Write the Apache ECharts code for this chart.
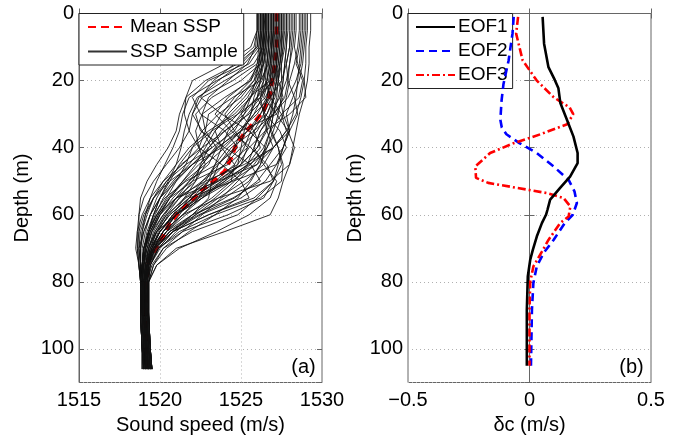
<!DOCTYPE html>
<html>
<head>
<meta charset="utf-8">
<script src="https://cdn.jsdelivr.net/npm/echarts@6/dist/echarts.min.js"></script>
<style>
html,body{margin:0;padding:0;background:#fff;}
#chart{width:678px;height:435px;}
</style>
</head>
<body>
<div id="chart"></div>
<script>
// ---------- data ----------
const sampleDepths = [0,5,10,15,20,25,30,35,40,45,50,55,60,65,70,75,80,90,100,106];
const sspSamples = [
  [1529.3,1529.3,1529.2,1529.2,1529.1,1528.9,1528.6,1528.4,1528.2,1528.0,1527.6,1527.3,1526.8,1524.0,1521.0,1519.8,1519.3,1519.3,1519.4,1519.5],
  [1529.0,1529.0,1528.9,1528.8,1528.6,1528.2,1527.8,1528.0,1527.6,1527.2,1526.5,1525.0,1522.5,1520.8,1519.9,1519.4,1519.2,1519.2,1519.3,1519.4],
  [1528.7,1528.7,1528.6,1528.4,1528.8,1528.6,1527.5,1526.8,1527.3,1527.5,1527.0,1526.0,1524.8,1522.0,1520.2,1519.6,1519.3,1519.3,1519.4,1519.5],
  [1528.4,1528.4,1528.3,1528.5,1528.9,1529.0,1528.0,1526.5,1525.5,1524.8,1523.0,1521.5,1520.5,1519.9,1519.5,1519.2,1519.1,1519.1,1519.2,1519.3],
  [1528.1,1528.1,1528.0,1527.8,1527.9,1528.3,1528.5,1528.0,1527.0,1525.2,1522.8,1521.0,1520.2,1519.6,1519.3,1519.1,1519.0,1519.0,1519.1,1519.2],
  [1527.8,1527.8,1527.7,1527.5,1527.3,1527.6,1527.2,1525.0,1523.5,1522.6,1521.8,1521.0,1520.3,1519.7,1519.3,1519.1,1519.0,1519.1,1519.2,1519.3],
  [1527.5,1527.5,1527.4,1527.3,1527.0,1526.0,1526.5,1527.4,1527.8,1527.2,1524.5,1521.8,1520.6,1519.8,1519.4,1519.2,1519.1,1519.2,1519.3,1519.4],
  [1527.3,1527.3,1527.3,1527.2,1527.0,1526.5,1525.5,1524.0,1523.0,1522.5,1522.2,1521.5,1520.8,1520.0,1519.5,1519.2,1519.1,1519.1,1519.2,1519.3],
  [1527.2,1527.2,1527.1,1527.1,1526.9,1526.2,1524.8,1523.2,1522.0,1521.2,1520.6,1520.0,1519.6,1519.3,1519.1,1519.0,1518.9,1518.9,1519.0,1519.1],
  [1527.0,1527.0,1527.0,1527.0,1526.8,1525.5,1525.0,1525.8,1526.2,1525.4,1524.0,1522.3,1521.0,1520.2,1519.6,1519.2,1519.1,1519.1,1519.2,1519.3],
  [1526.9,1526.9,1526.8,1526.7,1526.2,1524.5,1523.0,1522.8,1523.5,1523.0,1521.8,1520.8,1520.0,1519.5,1519.2,1519.0,1518.9,1518.9,1519.0,1519.1],
  [1526.7,1526.7,1526.7,1526.6,1526.5,1526.8,1527.5,1527.8,1527.0,1525.5,1523.8,1522.2,1521.0,1520.2,1519.6,1519.3,1519.2,1519.3,1519.4,1519.5],
  [1526.6,1526.6,1526.5,1526.2,1525.0,1523.2,1522.2,1522.5,1524.0,1525.6,1526.2,1524.5,1522.0,1520.4,1519.6,1519.2,1519.0,1519.0,1519.1,1519.2],
  [1526.5,1526.5,1526.4,1525.8,1524.0,1522.3,1521.8,1521.5,1521.3,1521.0,1520.5,1520.0,1519.6,1519.3,1519.0,1518.9,1518.8,1518.8,1518.9,1519.0],
  [1526.4,1526.4,1526.3,1526.0,1524.5,1522.6,1522.0,1521.8,1522.4,1523.8,1525.0,1525.5,1523.0,1520.8,1519.7,1519.3,1519.1,1519.2,1519.3,1519.4],
  [1526.3,1526.3,1526.2,1525.5,1523.5,1521.8,1521.4,1521.2,1520.8,1520.3,1519.8,1519.4,1519.1,1518.9,1518.8,1518.8,1518.8,1518.8,1518.9,1518.9],
  [1526.2,1526.2,1526.1,1525.2,1523.0,1522.0,1522.5,1524.0,1524.8,1523.5,1521.6,1520.3,1519.6,1519.2,1519.0,1518.9,1518.9,1519.0,1519.1,1519.2],
  [1526.1,1526.1,1526.0,1524.8,1522.8,1521.6,1521.2,1521.0,1520.5,1519.8,1519.2,1518.8,1518.7,1518.7,1518.7,1518.8,1518.8,1518.8,1518.9,1518.9],
  [1526.0,1526.0,1525.8,1524.6,1523.3,1522.5,1523.8,1525.5,1526.5,1526.0,1523.6,1521.0,1519.8,1519.3,1519.0,1518.9,1518.9,1519.0,1519.1,1519.2],
  [1526.6,1526.6,1526.6,1526.5,1526.4,1526.0,1525.2,1524.0,1522.6,1521.3,1520.4,1519.8,1519.4,1519.1,1518.9,1518.9,1518.9,1518.9,1519.0,1519.1],
  [1527.4,1527.4,1527.3,1527.2,1527.2,1527.0,1526.8,1526.5,1526.0,1525.0,1523.5,1522.0,1520.8,1520.0,1519.5,1519.2,1519.1,1519.2,1519.3,1519.4],
  [1527.6,1527.6,1527.6,1527.5,1527.5,1527.3,1527.0,1526.8,1526.5,1526.2,1525.5,1524.0,1522.2,1520.6,1519.8,1519.3,1519.2,1519.3,1519.4,1519.5],
  [1526.8,1526.8,1526.8,1526.7,1526.6,1526.3,1525.8,1525.0,1524.0,1522.8,1521.5,1520.6,1520.0,1519.5,1519.2,1519.0,1518.9,1519.0,1519.1,1519.2],
  [1528.9,1528.9,1528.8,1528.7,1528.4,1527.9,1527.0,1526.2,1525.8,1526.4,1527.2,1526.8,1525.5,1523.5,1521.2,1519.8,1519.3,1519.3,1519.4,1519.5],
  [1527.1,1527.1,1527.0,1526.9,1526.8,1526.6,1526.0,1524.8,1523.6,1522.4,1521.4,1520.6,1519.9,1519.4,1519.1,1519.0,1519.0,1519.0,1519.1,1519.2],
  [1526.3,1526.3,1526.3,1526.2,1526.0,1525.4,1524.4,1523.4,1522.8,1522.2,1521.4,1520.5,1519.8,1519.3,1519.0,1518.9,1518.8,1518.9,1519.0,1519.0],
  [1528.0,1528.0,1528.0,1527.8,1527.5,1526.8,1525.8,1525.0,1524.6,1524.0,1522.6,1521.2,1520.4,1519.8,1519.4,1519.2,1519.1,1519.1,1519.2,1519.3],
  [1527.9,1527.9,1527.8,1527.7,1527.6,1527.4,1527.6,1528.0,1527.6,1526.8,1526.0,1524.6,1522.4,1520.6,1519.7,1519.3,1519.2,1519.2,1519.3,1519.4],
  [1526.5,1526.5,1526.5,1526.4,1526.2,1525.8,1525.6,1525.0,1523.8,1522.0,1520.9,1520.2,1519.7,1519.3,1519.1,1519.0,1518.9,1518.9,1519.0,1519.1],
  [1527.2,1527.2,1527.2,1527.1,1527.0,1526.8,1526.2,1525.6,1525.2,1524.6,1523.4,1521.6,1520.4,1519.7,1519.3,1519.1,1519.0,1519.1,1519.2,1519.3],
  [1526.2,1526.2,1526.2,1526.1,1525.8,1525.0,1523.6,1522.6,1522.0,1521.6,1521.0,1520.4,1519.8,1519.3,1519.0,1518.9,1518.8,1518.8,1518.9,1519.0],
  [1526.7,1526.7,1526.7,1526.6,1526.4,1526.2,1526.4,1526.9,1527.3,1527.6,1527.5,1526.2,1523.4,1521.2,1519.9,1519.3,1519.2,1519.2,1519.3,1519.4],
  [1527.0,1527.0,1526.9,1526.8,1526.6,1526.2,1525.4,1524.4,1523.4,1522.6,1522.0,1521.2,1520.2,1519.5,1519.1,1518.9,1518.9,1519.0,1519.1,1519.1],
  [1526.4,1526.4,1526.4,1526.3,1526.1,1525.6,1524.8,1523.8,1523.0,1522.0,1521.0,1520.0,1519.4,1519.0,1518.8,1518.8,1518.8,1518.8,1518.9,1519.0],
  [1527.7,1527.7,1527.6,1527.4,1527.2,1527.0,1526.6,1526.0,1525.0,1524.0,1523.0,1522.0,1521.2,1520.4,1519.6,1519.2,1519.1,1519.2,1519.3,1519.4],
  [1528.3,1528.3,1528.2,1528.0,1527.8,1527.4,1526.8,1526.2,1525.8,1525.4,1524.6,1523.4,1522.0,1520.8,1519.9,1519.4,1519.3,1519.3,1519.4,1519.5],
  [1526.0,1526.0,1525.6,1524.0,1522.0,1521.6,1521.5,1521.8,1521.2,1520.4,1519.6,1519.0,1518.7,1518.6,1518.5,1518.7,1518.8,1518.8,1518.9,1519.0],
  [1526.1,1526.1,1526.0,1525.0,1523.6,1522.4,1522.0,1522.6,1523.2,1522.0,1520.6,1519.6,1519.0,1518.7,1518.6,1518.7,1518.8,1518.9,1519.0,1519.1],
  [1526.5,1526.4,1526.3,1526.1,1525.5,1524.2,1523.4,1524.4,1525.6,1526.6,1527.0,1525.8,1523.0,1520.8,1519.6,1519.2,1519.0,1519.1,1519.2,1519.3],
  [1527.0,1527.0,1526.9,1526.9,1526.7,1526.4,1527.2,1527.9,1528.3,1528.0,1526.8,1523.6,1521.4,1520.2,1519.6,1519.3,1519.1,1519.2,1519.3,1519.4],
  [1526.8,1526.8,1526.7,1526.6,1526.3,1525.6,1524.6,1523.0,1521.8,1521.0,1520.2,1519.6,1519.2,1518.9,1518.8,1518.8,1518.8,1518.9,1519.0,1519.0],
  [1527.3,1527.3,1527.2,1527.2,1527.1,1526.9,1526.4,1525.8,1525.4,1524.2,1522.0,1520.6,1519.9,1519.4,1519.1,1519.0,1518.9,1519.0,1519.1,1519.2],
  [1528.6,1528.6,1528.5,1528.3,1528.0,1527.8,1527.6,1527.2,1526.6,1525.8,1524.8,1523.8,1522.6,1521.4,1520.2,1519.5,1519.2,1519.3,1519.4,1519.5],
  [1529.1,1529.1,1529.0,1529.0,1528.9,1528.7,1528.4,1527.8,1527.0,1526.0,1524.4,1522.6,1521.0,1520.0,1519.5,1519.3,1519.2,1519.2,1519.3,1519.4],
  [1526.6,1526.6,1526.5,1526.4,1526.0,1525.2,1524.2,1523.4,1523.8,1524.6,1524.4,1523.2,1521.6,1520.4,1519.6,1519.2,1519.0,1519.0,1519.1,1519.2],
  [1526.3,1526.3,1526.2,1526.1,1525.9,1525.6,1525.2,1524.6,1523.2,1521.6,1520.4,1519.6,1519.1,1518.8,1518.7,1518.8,1518.8,1518.8,1518.9,1518.9],
  [1527.5,1527.5,1527.5,1527.4,1527.3,1527.1,1526.6,1525.4,1524.2,1523.4,1523.0,1522.4,1521.4,1520.4,1519.7,1519.3,1519.1,1519.1,1519.2,1519.3],
  [1526.9,1526.9,1526.9,1526.8,1526.8,1526.6,1526.4,1526.6,1527.0,1526.4,1525.2,1523.6,1522.2,1521.0,1520.0,1519.4,1519.1,1519.1,1519.2,1519.3],
  [1526.2,1526.2,1526.1,1526.0,1525.6,1524.0,1522.6,1522.2,1522.4,1522.8,1522.2,1521.0,1520.0,1519.4,1519.0,1518.9,1518.9,1518.9,1519.0,1519.1],
  [1527.1,1527.1,1527.1,1527.0,1526.9,1526.7,1526.2,1525.4,1524.6,1523.6,1522.6,1521.8,1521.0,1520.2,1519.5,1519.1,1519.0,1519.1,1519.2,1519.2],
  [1528.2,1528.2,1528.1,1528.0,1527.9,1527.7,1527.0,1525.8,1524.4,1523.6,1523.2,1523.0,1522.0,1520.6,1519.7,1519.3,1519.2,1519.2,1519.3,1519.4],
  [1526.4,1526.4,1526.4,1526.3,1526.2,1526.0,1525.6,1525.2,1525.0,1524.8,1524.0,1522.6,1521.0,1519.8,1519.2,1518.9,1518.9,1518.9,1519.0,1519.0],
  [1527.6,1527.6,1527.5,1527.4,1527.3,1527.2,1527.0,1526.8,1526.4,1525.6,1524.2,1522.4,1520.9,1520.0,1519.4,1519.1,1519.0,1519.1,1519.2,1519.3],
  [1526.7,1526.7,1526.6,1526.4,1525.8,1524.8,1524.0,1524.6,1525.4,1525.0,1523.6,1522.0,1520.8,1520.0,1519.4,1519.1,1519.0,1519.0,1519.1,1519.2],
  [1528.8,1528.8,1528.7,1528.6,1528.5,1528.4,1528.2,1527.9,1527.6,1527.3,1527.0,1526.4,1524.2,1521.4,1519.9,1519.4,1519.3,1519.3,1519.4,1519.5],
  [1526.0,1526.0,1525.9,1525.4,1524.2,1523.0,1522.6,1522.8,1522.4,1521.4,1520.2,1519.4,1518.9,1518.6,1518.6,1518.7,1518.8,1518.8,1518.9,1519.0],
  [1527.4,1527.4,1527.4,1527.3,1527.2,1527.0,1526.9,1526.6,1526.0,1525.0,1523.8,1522.6,1521.4,1520.2,1519.5,1519.2,1519.1,1519.1,1519.2,1519.3],
  [1526.9,1526.9,1526.9,1526.8,1526.6,1526.0,1525.0,1524.2,1523.8,1523.4,1522.8,1521.8,1520.6,1519.8,1519.3,1519.0,1518.9,1519.0,1519.1,1519.1],
  [1527.8,1527.8,1527.8,1527.7,1527.6,1527.5,1527.3,1527.0,1526.6,1526.2,1525.6,1524.8,1523.4,1521.8,1520.4,1519.6,1519.3,1519.3,1519.4,1519.5],
  [1526.5,1526.5,1526.4,1526.2,1525.6,1524.6,1523.8,1523.2,1522.6,1521.8,1520.8,1520.0,1519.4,1519.0,1518.7,1518.7,1518.8,1518.9,1519.0,1519.0]
];
const meanDepths = [0,10,18,24,29,32,35.5,39,43,47,50,53,56,59,62.5,66.5,70.4,73.6,80,90,106];
const meanSSP = [1527.2,1527.2,1527.0,1526.8,1526.4,1525.9,1525.25,1524.7,1524.4,1524.0,1523.3,1522.5,1521.9,1521.2,1520.6,1520.2,1519.7,1519.3,1519.15,1519.1,1519.2];

const eof1Depths = [1,9,16,19.8,22.3,26.7,31.7,36.7,41.6,44.6,48.6,52,55.5,58.5,60,62.5,66.5,70.4,73.4,78.4,88.3,105];
const eof1 = [0.054,0.06,0.078,0.104,0.119,0.127,0.154,0.181,0.198,0.198,0.167,0.126,0.085,0.074,0.068,0.051,0.030,0.014,0.003,-0.007,-0.011,-0.011];
const eof2Depths = [1,6,14,21,26,31.7,34,36,38.7,41.6,45.6,49.6,53,56.5,60,62.5,67.5,71.4,75.4,80.3,88.3,105];
const eof2 = [-0.065,-0.07,-0.086,-0.107,-0.115,-0.12,-0.114,-0.095,-0.04,0.03,0.099,0.161,0.185,0.195,0.178,0.145,0.099,0.058,0.03,0.016,0.01,0.006];
const eof3Depths = [1,6,14,20,25,28,30,33,36,38.7,41.6,45.6,49,50.5,52,53.5,55,57.5,60.5,62.5,67.5,71,75.4,80,88,105];
const eof3 = [-0.047,-0.055,-0.028,0.03,0.1,0.165,0.18,0.155,0.045,-0.066,-0.162,-0.223,-0.22,-0.17,-0.05,0.07,0.14,0.168,0.161,0.126,0.078,0.051,0.016,0.003,0,0];

const speedTicks = [1515,1520,1525,1530];
const dcTicks = [-0.5,0,0.5];

// ---------- chart ----------
const FONT = 'Liberation Sans, Arial, Helvetica, sans-serif';
const chart = echarts.init(document.getElementById('chart'), null, {renderer:'canvas'});
const pair = (xs, ds) => ds.map((d, i) => [xs[i], d]);
const minus = v => String(v).replace('-', '\u2212');

const gridLine = {show:true, lineStyle:{color:'#b0b0b0', type:[1,3], width:1}};
const tick = {show:true, inside:true, length:5, lineStyle:{color:'#666'}};

function xMain(gi, min, max, interval, name) {
  return {gridIndex:gi, type:'value', position:'bottom', min, max, interval,
    axisLine:{show:true, lineStyle:{color:'#666'}}, axisTick:tick,
    axisLabel:{fontSize:20, fontFamily:FONT, color:'#000', margin:8, formatter:minus},
    splitLine:gridLine, name, nameLocation:'middle', nameGap:22,
    nameTextStyle:{fontSize:20, fontFamily:FONT, color:'#000'}};
}
function xTop(gi, min, max, interval) {
  return {gridIndex:gi, type:'value', position:'top', min, max, interval,
    axisLine:{show:false}, axisTick:tick, axisLabel:{show:false}, splitLine:{show:false}};
}
function yMain(gi, gap) {
  return {gridIndex:gi, type:'value', inverse:true, min:0, max:110, interval:20, position:'left',
    axisLine:{show:true, lineStyle:{color:'#666'}}, axisTick:tick,
    axisLabel:{fontSize:20, fontFamily:FONT, color:'#000', margin:5, showMaxLabel:false},
    splitLine:gridLine, name:'Depth (m)', nameLocation:'middle', nameGap:gap, nameRotate:90,
    nameTextStyle:{fontSize:20, fontFamily:FONT, color:'#000'}};
}
function yRight(gi) {
  return {gridIndex:gi, type:'value', inverse:true, min:0, max:110, interval:20, position:'right',
    axisLine:{show:false}, axisTick:tick, axisLabel:{show:false}, splitLine:{show:false}};
}

const series = [];
series.push({type:'line', name:'Mean SSP', xAxisIndex:0, yAxisIndex:0, symbol:'none', z:2,
  color:'#ff0000', lineStyle:{color:'#ff0000', width:4, type:[8,5]},
  data: pair(meanSSP, meanDepths)});
sspSamples.forEach(p => {
  series.push({type:'line', name:'SSP Sample', xAxisIndex:0, yAxisIndex:0, symbol:'none',
    silent:true, z:2, color:'#1a1a1a',
    lineStyle:{color:'rgba(15,15,15,0.85)', width:1},
    data: pair(p, sampleDepths)});
});
series.push({type:'line', name:'EOF1', xAxisIndex:1, yAxisIndex:1, symbol:'none', z:5,
  color:'#000', lineStyle:{color:'#000', width:2.6}, data: pair(eof1, eof1Depths)});
series.push({type:'line', name:'EOF2', xAxisIndex:1, yAxisIndex:1, symbol:'none', z:4,
  color:'#0000ff', lineStyle:{color:'#0000ff', width:2.6, type:[8,5]}, data: pair(eof2, eof2Depths)});
series.push({type:'line', name:'EOF3', xAxisIndex:1, yAxisIndex:1, symbol:'none', z:4,
  color:'#ff0000', lineStyle:{color:'#ff0000', width:2.6, type:[8,3,2,3]}, data: pair(eof3, eof3Depths)});

const legendBase = {orient:'vertical', borderColor:'#222', borderWidth:1, backgroundColor:'#fff',
  itemWidth:39, itemHeight:14, itemGap:5.5, selectedMode:false,
  itemStyle:{opacity:0, color:'rgba(0,0,0,0)', borderWidth:0},
  textStyle:{fontSize:19, fontFamily:FONT, color:'#000', padding:[0,0,0,-2]}};

chart.setOption({
  animation:false,
  backgroundColor:'#fff',
  grid:[
    {left:79, top:13.5, width:243, height:369, show:true, borderColor:'#666', borderWidth:1, outerBoundsMode:'none', containLabel:false},
    {left:408, top:13.5, width:243, height:369, show:true, borderColor:'#666', borderWidth:1, outerBoundsMode:'none', containLabel:false}
  ],
  xAxis:[
    xMain(0, speedTicks[0], speedTicks[speedTicks.length-1], 5, 'Sound speed (m/s)'),
    xMain(1, dcTicks[0], dcTicks[dcTicks.length-1], 0.5, '\u03b4c (m/s)'),
    xTop(0, speedTicks[0], speedTicks[speedTicks.length-1], 5),
    xTop(1, dcTicks[0], dcTicks[dcTicks.length-1], 0.5)
  ],
  yAxis:[ yMain(0, 47), yMain(1, 38), yRight(0), yRight(1) ],
  legend:[
    Object.assign({}, legendBase, {left:79, top:13.5, padding:[4,6,4,8], data:['Mean SSP','SSP Sample']}),
    Object.assign({}, legendBase, {left:408, top:13.5, padding:[4,5,4,7], itemGap:5, data:['EOF1','EOF2','EOF3']})
  ],
  graphic:[
    {type:'text', x:303.5, y:367, style:{text:'(a)', fontSize:20, fontFamily:FONT, fill:'#000', align:'center', verticalAlign:'middle'}},
    {type:'text', x:631.5, y:367, style:{text:'(b)', fontSize:20, fontFamily:FONT, fill:'#000', align:'center', verticalAlign:'middle'}}
  ],
  series
});
</script>
</body>
</html>
